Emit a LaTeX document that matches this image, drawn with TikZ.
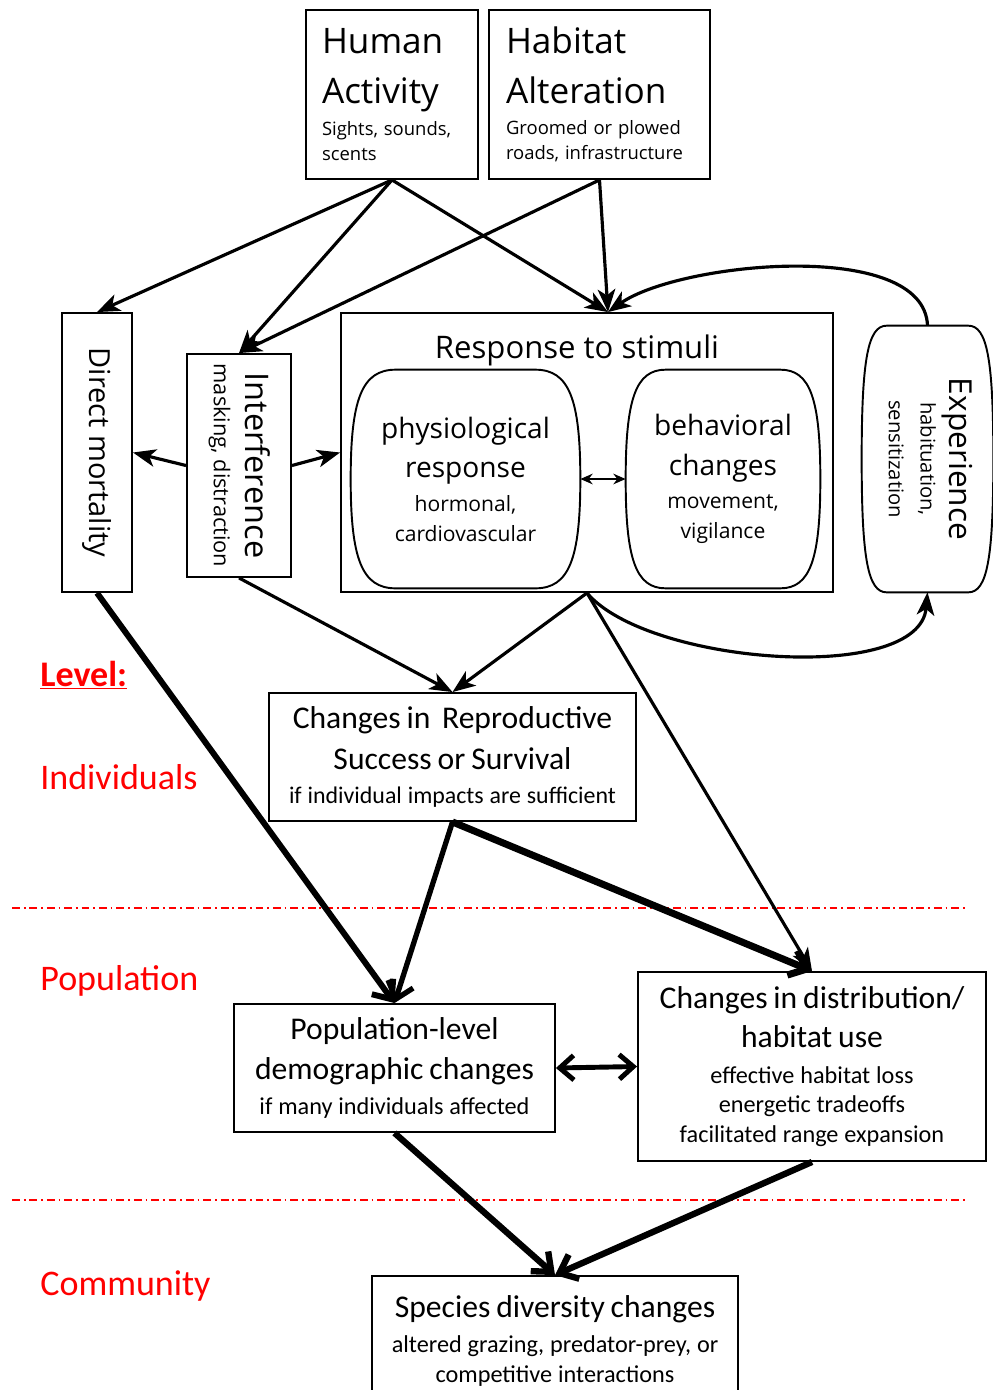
\documentclass[tikz,border=0pt]{standalone}
\usepackage{fontspec}
\setmainfont{Carlito}
\newfontfamily\upperfont{Open Sans}
\usetikzlibrary{arrows.meta}

\newcommand{\fsz}[2]{\fontsize{#1}{#2}\selectfont}
% rotated multi-line text
\newcommand{\vtext}[1]{\rotatebox{-90}{\begin{tabular}{@{}c@{}}#1\end{tabular}}}
% barrel outline around a node: node, corner inset, side control
\newcommand{\drawbarrel}[3]{%
  \draw[line width=1.1pt] ([xshift=#2]#1.north west) -- ([xshift=-#2]#1.north east)
    .. controls ([xshift=-0.25*#2]#1.north east) and ([yshift=#3]#1.east) .. (#1.east)
    .. controls ([yshift=-#3]#1.east) and ([xshift=-0.25*#2]#1.south east) .. ([xshift=-#2]#1.south east)
    -- ([xshift=#2]#1.south west)
    .. controls ([xshift=0.25*#2]#1.south west) and ([yshift=-#3]#1.west) .. (#1.west)
    .. controls ([yshift=#3]#1.west) and ([xshift=0.25*#2]#1.north west) .. cycle;}

\begin{document}
\begin{tikzpicture}[
        x=0.02cm, y=-0.02cm,
        box/.style={rectangle, draw, line width=1.1pt, inner sep=0pt},
        srcbox/.style={box, align=left, font=\upperfont},
        upperbox/.style={box, align=center, font=\upperfont},
        lowerbox/.style={box, align=center},
        barrel/.style={rectangle, inner sep=0pt, align=center, font=\upperfont},
        level/.style={anchor=base west, inner sep=0pt, text=red, font=\fsz{20.5}{24}},
        arrow/.style={-{Stealth[length=13pt, width=10pt, inset=3.5pt]}, line width=1.8pt},
        bigarrow/.style={-{Straight Barb[length=9pt, width=15pt]}, line width=3.6pt},
        divider/.style={red, line width=0.9pt, dash pattern=on 4.5pt off 2.2pt on 1pt off 2.2pt}
    ]
    \useasboundingbox (0,0) rectangle (992,1390);

    % Sources
    \node[srcbox, text width=2.8cm, minimum width=3.44cm, minimum height=3.38cm] (human) at (392,94.5)
        {{\fsz{20}{28.5}Human\\Activity\par}\vskip3.5pt{\fsz{10.5}{14.2}Sights, sounds,\\scents\par}};
    \node[srcbox, text width=3.74cm, minimum width=4.42cm, minimum height=3.38cm] (habit) at (599.5,94.5)
        {{\fsz{20}{28.5}Habitat\\Alteration\par}\vskip3.5pt{\fsz{10.5}{14.2}Groomed or plowed\\roads, infrastructure\par}};

    % Immediate effects
    \node[upperbox, minimum width=1.4cm, minimum height=5.58cm] (mort) at (97,452.5)
        {\rotatebox{-90}{\fsz{16.5}{20}Direct mortality}};
    \node[upperbox, minimum width=2.08cm, minimum height=4.46cm] (interf) at (239,465.5)
        {\vtext{\fsz{18.5}{22}Interference\\[5pt]\fsz{12.4}{15}masking, distraction}};
    \node[upperbox, minimum width=9.84cm, minimum height=5.58cm] (resp) at (587,452.5) {};
    \node[anchor=base, font=\upperfont\fsz{17.7}{22}] (respttl) at (577,358) {Response to stimuli};

    \node[barrel, text width=4.4cm, minimum width=4.58cm, minimum height=4.36cm] (physio) at (465.5,479)
        {{\fsz{16}{22.7}physiological\\response\par}\vskip2pt{\fsz{12}{17}hormonal,\\cardiovascular\par}};
    \node[barrel, text width=3.7cm, minimum width=3.88cm, minimum height=4.36cm] (behav) at (723,479)
        {{\fsz{16}{22.7}behavioral\\changes\par}\vskip2pt{\fsz{12}{17}movement,\\vigilance\par}};
    \node[barrel, minimum width=2.62cm, minimum height=5.32cm] (exper) at (927.5,459)
        {\vtext{\fsz{18}{22}Experience\\[4pt]\fsz{11.5}{15}habituation,\\[6pt]\fsz{11.5}{15}sensitization}};
    \drawbarrel{physio}{0.9cm}{1.6cm}
    \drawbarrel{behav}{0.8cm}{1.6cm}
    \drawbarrel{exper}{0.5cm}{2cm}

    % Level labels
    \node[level] (lvl) at (40,686) {\textbf{\underline{Level:}}};
    \node[level] (indiv) at (40,789) {Individuals};
    \node[level] (popl) at (40,990) {Population};
    \node[level] (comm) at (40,1295) {Community};
    \draw[divider] (12,908) -- (968,908);
    \draw[divider] (12,1200) -- (968,1200);

    % Consequences
    \node[lowerbox, text width=7.1cm, minimum width=7.34cm, minimum height=2.56cm] (repro) at (452.5,757)
        {{\fsz{18}{23.2}Changes in\ \ Reproductive\\Success or Survival\par}{\fsz{13.6}{19.3}if individual impacts are sufficient\par}};
    \node[lowerbox, text width=6.2cm, minimum width=6.42cm, minimum height=2.56cm] (poplev) at (394.5,1068)
        {{\fsz{18}{22.7}Population-level\\demographic changes\par}{\fsz{13.8}{19.8}if many individuals affected\par}};
    \node[lowerbox, text width=6.7cm, minimum width=6.96cm, minimum height=3.78cm] (distr) at (812,1066.5)
        {{\fsz{18}{22.7}Changes in distribution/\\habitat use\par}\vskip3pt{\fsz{13.8}{17}effective habitat loss\\energetic tradeoffs\\facilitated range expansion\par}};
    \node[lowerbox, text width=7.1cm, minimum width=7.32cm, minimum height=2.6cm] (species) at (555,1341)
        {{\fsz{18}{22.7}Species diversity changes\par}\vskip3pt{\fsz{13.8}{17}altered grazing, predator-prey, or\\competitive interactions\par}};

    % Stimuli to responses
    \draw[arrow] (human.south) -- (mort.north);
    \draw[arrow] (human.south) -- (interf.north);
    \draw[arrow] (human.south) -- ([xshift=0.42cm]resp.north);
    \draw[arrow] (habit.south) -- (interf.north);
    \draw[arrow] (habit.south) -- ([xshift=0.42cm]resp.north);
    \draw[arrow] (exper.north) to[out=92, in=35, looseness=0.7] ([xshift=0.42cm]resp.north);
    \draw[arrow] (interf.west) -- (mort.east);
    \draw[arrow] (interf.east) -- (resp.west);
    \draw[{Stealth[length=7pt, width=6pt]}-{Stealth[length=7pt, width=6pt]}, line width=1.3pt] (physio.east) -- (behav.west);
    \draw[arrow] (resp.south) to[out=-50, in=-95, looseness=0.7] (exper.south);

    % Responses to consequences
    \draw[arrow] (interf.south) -- (repro.north);
    \draw[arrow] (resp.south) -- (repro.north);
    \draw[arrow] (resp.south) -- (distr.north);
    \draw[bigarrow, line width=3.4pt] (mort.south) -- (poplev.north);
    \draw[bigarrow, line width=3pt] (repro.south) -- (poplev.north);
    \draw[bigarrow, line width=4pt] (repro.south) -- (distr.north);
    \draw[bigarrow, {Straight Barb[length=8pt, width=14pt]}-{Straight Barb[length=8pt, width=14pt]}, line width=2.8pt] (poplev.east) -- (distr.west);
    \draw[bigarrow] (poplev.south) -- (species.north);
    \draw[bigarrow] (distr.south) -- (species.north);
\end{tikzpicture}
\end{document}
